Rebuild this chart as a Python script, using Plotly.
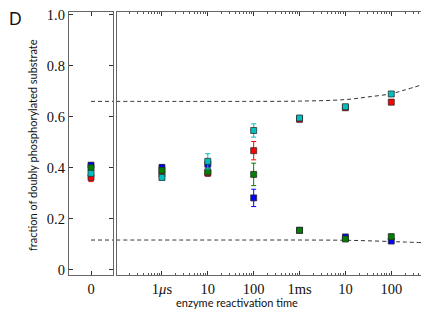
import plotly.graph_objects as go

# ---- data ----
times = [1e-6, 1e-5, 1e-4, 1e-3, 1e-2, 1e-1]
tick_vals = [1e-6, 1e-5, 1e-4, 1e-3, 1e-2, 1e-1]
tick_text = ["1<i>μ</i>s", "10", "100", "1ms", "10", "100"]
y_tick_vals = [0, 0.2, 0.4, 0.6, 0.8, 1.0]
y_tick_text = ["0", "0.2", "0.4", "0.6", "0.8", "1.0"]

series_names = ["red", "blue", "green", "cyan"]
series_colors = {"red": "#ff0000", "blue": "#0000ff", "green": "#007f00", "cyan": "#00bfbf"}

# value at enzyme reactivation time 0
zero_vals = {"blue": 0.410, "green": 0.400, "cyan": 0.378, "red": 0.362}
zero_errs = {"blue": 0.010, "green": 0.010, "cyan": 0.010, "red": 0.016}

blue_vals = [0.401, 0.414, 0.282, 0.155, 0.129, 0.113]
green_vals = [0.390, 0.384, 0.374, 0.155, 0.121, 0.130]
red_vals = [0.376, 0.379, 0.467, 0.590, 0.635, 0.657]
cyan_vals = [0.362, 0.425, 0.546, 0.595, 0.639, 0.689]

blue_errs = [0.012, 0.015, 0.034, 0.005, 0.005, 0.005]
green_errs = [0.010, 0.010, 0.044, 0.006, 0.005, 0.010]
red_errs = [0.020, 0.012, 0.036, 0.010, 0.008, 0.010]
cyan_errs = [0.010, 0.030, 0.026, 0.008, 0.008, 0.006]

vals = {"blue": blue_vals, "green": green_vals, "red": red_vals, "cyan": cyan_vals}
errs = {"blue": blue_errs, "green": green_errs, "red": red_errs, "cyan": cyan_errs}

# dashed model curves
curve_t = [1.0e-7, 1e-4, 1e-3, 1e-2, 3e-2, 1e-1, 2e-1, 0.47]
upper_curve = [0.660, 0.660, 0.661, 0.667, 0.677, 0.690, 0.705, 0.725]
lower_curve = [0.117, 0.117, 0.117, 0.116, 0.114, 0.111, 0.109, 0.107]
left_curve_x = [0, 1]

# minor log ticks (2..9 within each decade)
minor_ticks = [m * 10.0 ** e for e in range(-7, 0) for m in range(2, 10)]

fig = go.Figure()

dash_color = "#333333"
dash_style = "4px,3px"
# left panel dashed lines
for level in (upper_curve[0], lower_curve[0]):
    fig.add_trace(go.Scatter(x=left_curve_x, y=[level, level], mode="lines",
                             line=dict(color=dash_color, width=1, dash=dash_style),
                             xaxis="x", yaxis="y", showlegend=False, hoverinfo="skip"))
# right panel dashed curves
for c in (upper_curve, lower_curve):
    fig.add_trace(go.Scatter(x=curve_t, y=c, mode="lines",
                             line=dict(color=dash_color, width=1, dash=dash_style, shape="spline"),
                             xaxis="x2", yaxis="y2", showlegend=False, hoverinfo="skip"))

for name in series_names:
    col = series_colors[name]
    marker = dict(symbol="square", size=6, color=col,
                  line=dict(color="rgba(40,40,40,0.75)", width=1))
    err_style = dict(thickness=1, width=2.5, color=col)
    fig.add_trace(go.Scatter(x=[0], y=[zero_vals[name]], mode="markers",
                             error_y=dict(type="data", array=[zero_errs[name]], **err_style),
                             marker=marker, xaxis="x", yaxis="y", showlegend=False))
    fig.add_trace(go.Scatter(x=times, y=vals[name], mode="markers",
                             error_y=dict(type="data", array=errs[name], **err_style),
                             marker=marker, xaxis="x2", yaxis="y2", showlegend=False))

# The page body has an 8px margin; figure coordinates are screen coordinates minus 8.
W, H = 421, 301
OFF = 8


def px_x(sx):
    return (sx - OFF) / W


def px_y(sy):
    return 1 - (sy - OFF) / H


spine = "#666666"
tickfont = dict(family="Liberation Serif", size=14.5, color="#111111")
ydom = [px_y(275), px_y(12)]
yrange = [-0.02, 1.01]

fig.update_layout(
    width=W, height=H,
    margin=dict(l=0, r=0, t=0, b=0, autoexpand=False),
    paper_bgcolor="white", plot_bgcolor="white",
    xaxis=dict(domain=[px_x(69), px_x(113)], range=[-1, 1], tickvals=[0], ticktext=["0"],
               ticks="inside", ticklen=4, tickcolor="#333", mirror="ticks",
               showline=True, linecolor=spine, linewidth=1.3, showgrid=False,
               zeroline=False, tickfont=tickfont, anchor="y", automargin=False,
               ticklabeloverflow="allow"),
    yaxis=dict(domain=ydom, range=yrange, tickvals=y_tick_vals, ticktext=y_tick_text,
               ticks="inside", ticklen=4, tickcolor="#333", mirror="ticks",
               showline=True, linecolor=spine, linewidth=1.3, showgrid=False,
               zeroline=False, tickfont=tickfont, anchor="x", automargin=False,
               ticklabeloverflow="allow"),
    xaxis2=dict(domain=[px_x(117), px_x(422)], type="log", range=[-6.98, -0.33],
                tickvals=tick_vals, ticktext=tick_text,
                ticks="inside", ticklen=4, tickcolor="#333", mirror="ticks",
                minor=dict(tickvals=minor_ticks, ticks="inside", ticklen=2,
                           tickcolor="#555", showgrid=False),
                showline=True, linecolor=spine, linewidth=1.3, showgrid=False,
                zeroline=False, tickfont=tickfont, anchor="y2", automargin=False,
                ticklabeloverflow="allow"),
    yaxis2=dict(domain=ydom, range=yrange, showticklabels=False, ticks="",
                showline=True, linecolor=spine, linewidth=1.3, mirror=True,
                showgrid=False, zeroline=False, anchor="x2", automargin=False),
    annotations=[
        dict(text="enzyme reactivation time", x=px_x(237), y=px_y(302.5),
             xref="paper", yref="paper", showarrow=False, xanchor="center", yanchor="middle",
             font=dict(family="Lato", size=11, color="#111")),
        dict(text="fraction of doubly phosphorylated substrate", x=px_x(32), y=px_y(145),
             xref="paper", yref="paper", showarrow=False, textangle=-90,
             xanchor="center", yanchor="middle",
             font=dict(family="Lato", size=11, color="#111")),
        dict(text="D", x=0.0, y=1.0, xref="paper", yref="paper",
             showarrow=False, xanchor="left", yanchor="top", borderpad=0,
             font=dict(family="Lato", size=16.5, color="#111")),
    ],
)

fig.write_html("out.html")
